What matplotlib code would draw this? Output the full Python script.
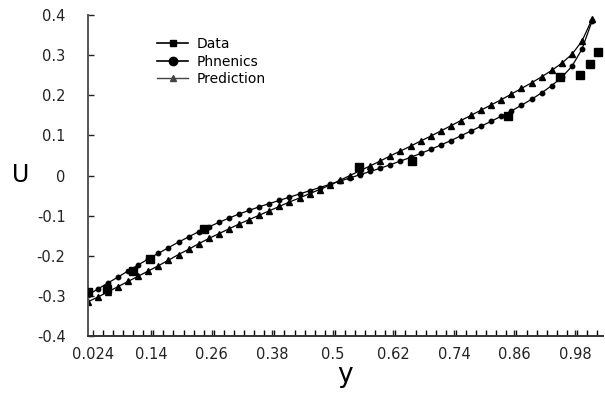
import numpy as np
import matplotlib
matplotlib.use("Agg")
import matplotlib.pyplot as plt
from matplotlib.legend_handler import HandlerLine2D
from matplotlib.lines import Line2D

# data
data_y = [0.014, 0.052, 0.103, 0.137, 0.245, 0.552, 0.656, 0.848, 0.951, 0.990, 1.010, 1.026]
data_u = [-0.290, -0.283, -0.238, -0.208, -0.133, 0.022, 0.037, 0.148, 0.245, 0.250, 0.278, 0.308]

grid_y = [0.014, 0.034, 0.054, 0.074, 0.094, 0.114, 0.134, 0.154, 0.174, 0.194,
          0.214, 0.234, 0.254, 0.274, 0.294, 0.314, 0.334, 0.354, 0.374, 0.394,
          0.414, 0.434, 0.454, 0.474, 0.494, 0.514, 0.534, 0.554, 0.574, 0.594,
          0.614, 0.634, 0.654, 0.674, 0.694, 0.714, 0.734, 0.754, 0.774, 0.794,
          0.814, 0.834, 0.854, 0.874, 0.894, 0.914, 0.934, 0.954, 0.974, 0.994,
          1.014]

phoenics_u = [-0.298, -0.283, -0.268, -0.253, -0.238, -0.223, -0.208, -0.194, -0.180, -0.166,
              -0.153, -0.140, -0.128, -0.117, -0.106, -0.096, -0.087, -0.078, -0.070, -0.062,
              -0.054, -0.046, -0.038, -0.030, -0.022, -0.014, -0.006, 0.002, 0.010, 0.018,
              0.027, 0.036, 0.045, 0.055, 0.065, 0.076, 0.087, 0.099, 0.111, 0.123,
              0.135, 0.148, 0.161, 0.175, 0.190, 0.206, 0.224, 0.245, 0.272, 0.315,
              0.385]

prediction_u = [-0.315, -0.303, -0.290, -0.277, -0.264, -0.251, -0.238, -0.225, -0.211, -0.197,
                -0.184, -0.170, -0.157, -0.145, -0.133, -0.121, -0.110, -0.099, -0.088, -0.077,
                -0.066, -0.056, -0.045, -0.035, -0.024, -0.012, 0.000, 0.012, 0.024, 0.036,
                0.049, 0.061, 0.073, 0.086, 0.098, 0.111, 0.124, 0.137, 0.150, 0.163,
                0.176, 0.189, 0.203, 0.217, 0.231, 0.246, 0.262, 0.280, 0.302, 0.335,
                0.390]

xtick_vals = [0.024, 0.14, 0.26, 0.38, 0.5, 0.62, 0.74, 0.86, 0.98]
xtick_labels = ["0.024", "0.14", "0.26", "0.38", "0.5", "0.62", "0.74", "0.86", "0.98"]
ytick_vals = [-0.4, -0.3, -0.2, -0.1, 0, 0.1, 0.2, 0.3, 0.4]
ytick_labels = ["-0.4", "-0.3", "-0.2", "-0.1", "0", "0.1", "0.2", "0.3", "0.4"]


class MarkerFirst(HandlerLine2D):
    # marker at the left end, line after it
    def get_xdata(self, legend, xdescent, ydescent, width, height, fontsize):
        xdata = np.array([-xdescent + 0.3 * width, -xdescent + width])
        xdata_marker = np.array([-xdescent])
        return xdata, xdata_marker


fig = plt.figure(figsize=(6.05, 4.0), dpi=100)
ax = fig.add_axes([0.145, 0.16, 0.852, 0.8025])

ax.plot(data_y, data_u, "ks", ms=6, ls="none", zorder=3)
ax.plot(grid_y, phoenics_u, "k-", marker="o", ms=3.2, lw=0.9)
ax.plot(grid_y, prediction_u, "k-", marker="^", ms=4, lw=0.9)

ax.set_xlim(0.014, 1.036)
ax.set_ylim(-0.4, 0.4)

ax.spines["top"].set_visible(False)
ax.spines["right"].set_visible(False)
ax.spines["left"].set_color("#555555")
ax.spines["bottom"].set_color("#333333")
ax.spines["left"].set_linewidth(1.4)
ax.spines["bottom"].set_linewidth(1.4)

ax.set_xticks(xtick_vals)
ax.set_xticklabels(xtick_labels)
ax.set_xticks(np.arange(0.024, 1.036, 0.02), minor=True)
ax.set_yticks(ytick_vals)
ax.set_yticklabels(ytick_labels)
ax.tick_params(axis="both", direction="in", length=4, width=1, labelsize=10.5, colors="#222222")
ax.tick_params(axis="x", which="minor", direction="in", length=4, width=1)
ax.tick_params(axis="y", pad=16)
ax.tick_params(axis="x", pad=8)

ax.set_xlabel("y", fontsize=19, labelpad=0)
ax.set_ylabel("U", fontsize=17, rotation=0, va="center", ha="center")
ax.yaxis.set_label_coords(-0.13, 0.5)

handles = [Line2D([], [], color="k", marker="s", ms=5, lw=1.2),
           Line2D([], [], color="k", marker="o", ms=6, lw=1.2),
           Line2D([], [], color="#444444", marker="^", ms=4, lw=1.0)]
ax.legend(handles, ["Data", "Phnenics", "Prediction"], loc="upper left",
          bbox_to_anchor=(0.085, 0.97), frameon=False, numpoints=1, fontsize=10,
          handlelength=3.2, handletextpad=0.6, labelspacing=0.25,
          handler_map={Line2D: MarkerFirst(numpoints=1)})

fig.savefig("out.png", dpi=100)
